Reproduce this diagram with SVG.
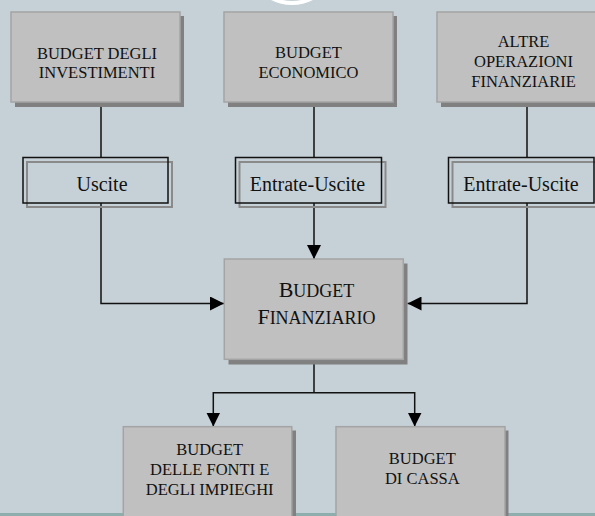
<svg xmlns="http://www.w3.org/2000/svg" width="595" height="516" viewBox="0 0 595 516">
  <defs>
    <marker id="arrow" viewBox="0 0 14 14" refX="14" refY="7" markerWidth="14" markerHeight="14" markerUnits="userSpaceOnUse" orient="auto">
      <path d="M0,0 L14,7 L0,14 Z" fill="#000"/>
    </marker>
  </defs>
  <style>
    .box { fill: #c0c0c0; stroke: #a4a4a4; stroke-width: 1.5; }
    .shadow { fill: #808080; }
    .t { font-family: "Liberation Serif", "Times New Roman", serif; font-size: 16.5px; fill: #111; text-anchor: middle; }
    .lbl { font-family: "Liberation Serif", "Times New Roman", serif; font-size: 20px; fill: #111; text-anchor: middle; }
    .frame { fill: none; stroke: #111; stroke-width: 1.5; }
    .frame2 { fill: none; stroke: #8a8a8a; stroke-width: 2; }
    .wire { fill: none; stroke: #111; stroke-width: 1.5; }
  </style>

  <!-- background -->
  <rect x="0" y="0" width="595" height="516" fill="#c6d1d7"/>
  <rect x="0" y="513" width="595" height="3" fill="#8eaeae"/>
  <circle cx="292" cy="-40" r="43" fill="none" stroke="#ffffff" stroke-width="4"/>

  <!-- connectors -->
  <g id="connectors">
    <path class="wire" d="M101,107 V157 M101,203 V303.5 H224" marker-end="url(#arrow)"/>
    <path class="wire" d="M314,107 V157 M314,203 V259" marker-end="url(#arrow)"/>
    <path class="wire" d="M527,107 V157 M527,203 V303.5 H407.5" marker-end="url(#arrow)"/>
    <path class="wire" d="M314,364 V392.7"/>
    <path class="wire" d="M314,392.7 H213.3 V426.5" marker-end="url(#arrow)"/>
    <path class="wire" d="M314,392.7 H414.7 V426.5" marker-end="url(#arrow)"/>
  </g>

  <!-- top row -->
  <g id="budget-investimenti">
    <rect class="shadow" x="15" y="16" width="169" height="91"/>
    <rect class="box" x="11" y="12" width="169" height="90"/>
    <text class="t" x="97" y="59">BUDGET DEGLI</text>
    <text class="t" x="97" y="78">INVESTIMENTI</text>
  </g>
  <g id="budget-economico">
    <rect class="shadow" x="228" y="16" width="169" height="91"/>
    <rect class="box" x="224" y="12" width="169" height="90"/>
    <text class="t" x="308.5" y="58">BUDGET</text>
    <text class="t" x="308.5" y="78">ECONOMICO</text>
  </g>
  <g id="altre-operazioni">
    <rect class="shadow" x="441" y="16" width="170" height="91"/>
    <rect class="box" x="437" y="12" width="170" height="90"/>
    <text class="t" x="523.5" y="47">ALTRE</text>
    <text class="t" x="523.5" y="67">OPERAZIONI</text>
    <text class="t" x="523.5" y="87">FINANZIARIE</text>
  </g>

  <!-- flow labels -->
  <g id="label-uscite">
    <rect class="frame2" x="27" y="162" width="145" height="45"/>
    <rect class="frame" x="23" y="157.5" width="145" height="45.5"/>
    <text class="lbl" x="102" y="191">Uscite</text>
  </g>
  <g id="label-entrate-uscite-1">
    <rect class="frame2" x="239.5" y="162" width="146" height="45"/>
    <rect class="frame" x="235.5" y="157.5" width="146" height="45.5"/>
    <text class="lbl" x="307.5" y="191">Entrate-Uscite</text>
  </g>
  <g id="label-entrate-uscite-2">
    <rect class="frame2" x="452.5" y="162" width="146" height="45"/>
    <rect class="frame" x="448.5" y="157.5" width="145.5" height="45.5"/>
    <text class="lbl" x="521" y="191">Entrate-Uscite</text>
  </g>

  <!-- central node -->
  <g id="budget-finanziario">
    <rect class="shadow" x="228.5" y="263.5" width="179" height="101"/>
    <rect class="box" x="224.3" y="259" width="179" height="100.3"/>
    <text class="t" x="316.5" y="297"><tspan font-size="22">B</tspan><tspan font-size="18">UDGET</tspan></text>
    <text class="t" x="316.5" y="324"><tspan font-size="22">F</tspan><tspan font-size="18">INANZIARIO</tspan></text>
  </g>

  <!-- bottom row -->
  <g id="budget-fonti-impieghi">
    <rect class="shadow" x="127.5" y="430.5" width="168.5" height="90"/>
    <rect class="box" x="123.3" y="426.7" width="168.5" height="95"/>
    <text class="t" x="209.7" y="455">BUDGET</text>
    <text class="t" x="209.7" y="475">DELLE FONTI E</text>
    <text class="t" x="209.7" y="495">DEGLI IMPIEGHI</text>
  </g>
  <g id="budget-cassa">
    <rect class="shadow" x="340" y="430.5" width="168.5" height="90"/>
    <rect class="box" x="336" y="426.7" width="169" height="95"/>
    <text class="t" x="422.3" y="464.3">BUDGET</text>
    <text class="t" x="422.3" y="484">DI CASSA</text>
  </g>
</svg>
